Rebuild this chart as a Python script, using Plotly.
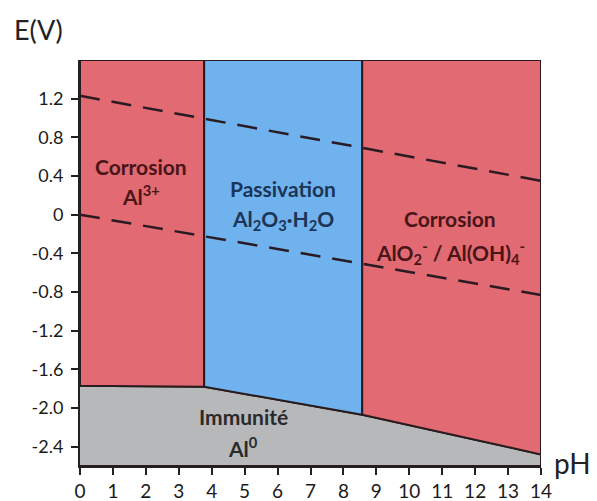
import plotly.graph_objects as go

# Pourbaix diagram of aluminium (E vs pH)
ph_bounds = [0, 3.77, 8.57, 14]          # pH of domain boundaries
immunity_E = [-1.77, -1.78, -2.07, -2.48]  # E of Al/ions boundary at ph_bounds
E_top = 1.6
E_bottom = -2.6

water_ph = [0, 14]
water_upper = [1.23, 0.35]   # O2/H2O line
water_lower = [0.0, -0.83]   # H+/H2 line

x_ticks = list(range(0, 15))
y_ticks = [1.2, 0.8, 0.4, 0, -0.4, -0.8, -1.2, -1.6, -2.0, -2.4]
y_tick_labels = ["1.2", "0.8", "0.4", "0", "-0.4", "-0.8", "-1.2", "-1.6", "-2.0", "-2.4"]

labels = [
    ("Corrosion", 1.85, 0.50, "#4a1519"),
    ("Al<sup>3+</sup>", 1.85, 0.20, "#4a1519"),
    ("Passivation", 6.17, 0.27, "#1c3556"),
    ("Al<sub>2</sub>O<sub>3</sub>·H<sub>2</sub>O", 6.17, -0.06, "#1c3556"),
    ("Corrosion", 11.25, -0.04, "#4a1519"),
    ("AlO<sub>2</sub><sup>-</sup> / Al(OH)<sub>4</sub><sup>-</sup>", 11.25, -0.39, "#4a1519"),
    ("Immunité", 4.95, -2.09, "#2a2a2a"),
    ("Al<sup>0</sup>", 4.95, -2.40, "#2a2a2a"),
]

RED = "#e26a72"
BLUE = "#6fb2ee"
GRAY = "#b6b8ba"
EDGE = "#2a1c1e"
FONT = "Lato"

fig = go.Figure()

# gray immunity domain
fig.add_trace(go.Scatter(
    x=ph_bounds + [ph_bounds[-1], ph_bounds[0]],
    y=immunity_E + [E_bottom, E_bottom],
    fill="toself", fillcolor=GRAY, mode="lines",
    line=dict(color=EDGE, width=2), hoverinfo="skip", showlegend=False))

# three upper domains
colors = [RED, BLUE, RED]
for i in range(3):
    x0, x1 = ph_bounds[i], ph_bounds[i + 1]
    fig.add_trace(go.Scatter(
        x=[x0, x1, x1, x0, x0],
        y=[E_top, E_top, immunity_E[i + 1], immunity_E[i], E_top],
        fill="toself", fillcolor=colors[i], mode="lines",
        line=dict(color=EDGE, width=2), hoverinfo="skip", showlegend=False))

# water stability lines
for ys in (water_upper, water_lower):
    fig.add_trace(go.Scatter(
        x=water_ph, y=ys, mode="lines",
        line=dict(color="#2a1a22", width=2.5, dash="20px,12px"),
        hoverinfo="skip", showlegend=False))

for text, x, y, c in labels:
    fig.add_annotation(x=x, y=y, text=text, showarrow=False,
                       font=dict(family=FONT, size=21, color=c, weight="bold"))

fig.add_annotation(xref="paper", yref="paper", x=-0.1475, y=1.074,
                   xanchor="left", yanchor="middle", text="E(V)", showarrow=False,
                   font=dict(family=FONT, size=27, color="#222"))
fig.add_annotation(xref="paper", yref="paper", x=1.024, y=0.007,
                   xanchor="left", yanchor="middle", text="pH", showarrow=False,
                   font=dict(family=FONT, size=28, color="#222"))

# page body has an 8px margin; size the figure so the plot lands where the reference's does
fig.update_layout(
    width=589, height=493,
    margin=dict(l=72, r=56, t=52, b=35),
    paper_bgcolor="white", plot_bgcolor="white",
    font=dict(family=FONT, size=18, color="#1a1a1a"),
)
fig.update_xaxes(range=[0, 14], tickvals=x_ticks, ticks="outside", ticklen=7,
                 tickwidth=2, tickcolor="#222", showline=True, linewidth=2,
                 linecolor="#222", showgrid=False, zeroline=False,
                 tickfont=dict(size=19), automargin=False)
fig.update_yaxes(range=[E_bottom, E_top], tickvals=y_ticks, ticktext=y_tick_labels,
                 ticks="outside", ticklen=7, tickwidth=2, tickcolor="#222",
                 showline=True, linewidth=2, linecolor="#222", showgrid=False,
                 zeroline=False, tickfont=dict(size=18), ticklabelstandoff=4,
                 automargin=False)

fig.write_html("out.html")
